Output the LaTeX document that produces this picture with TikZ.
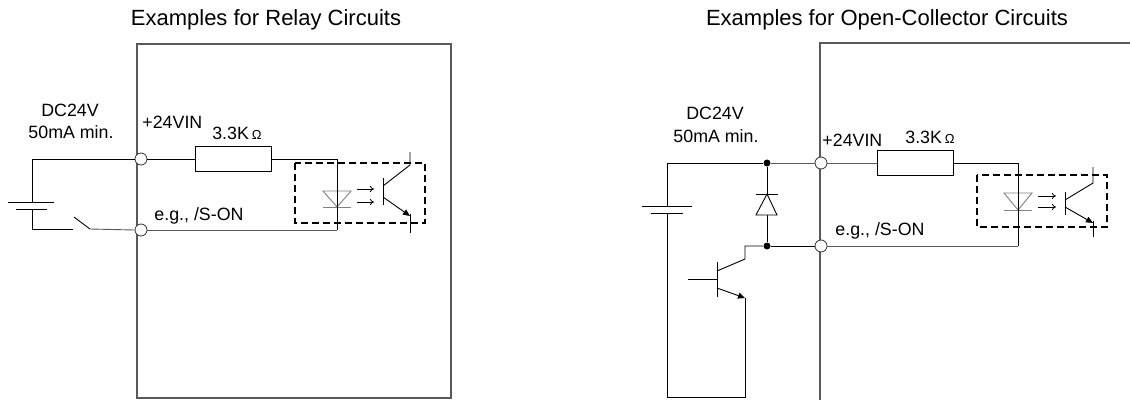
\documentclass[tikz,border=0pt]{standalone}
\usepackage{fontspec}
\setmainfont{Liberation Sans}
\usepackage{xcolor}
\usetikzlibrary{calc,shapes,positioning,arrows.meta}

\definecolor{wiregray}{gray}{0.35}
\definecolor{ledgray}{gray}{0.5}

\begin{document}
\begin{tikzpicture}[x=1pt, y=-1pt, line width=0.9pt,
        headtext/.style={inner sep=0pt, font=\fontsize{22}{24}\selectfont},
        txt/.style={inner sep=0pt, font=\fontsize{17.8}{20}\selectfont},
        housing/.style={draw=wiregray, line width=1.1pt},
        terminal/.style={circle, draw=black!80, fill=white, minimum size=12pt, inner sep=0pt, line width=0.8pt},
        junction/.style={circle, fill=black, minimum size=7pt, inner sep=0pt},
        resistor/.style={rectangle, draw, minimum width=76pt, minimum height=25pt, inner sep=0pt},
        dashbox/.style={draw, line width=1.8pt, dash pattern=on 7pt off 4pt},
        led/.style={draw=ledgray, line width=0.9pt},
        light/.style={-{To[length=4pt, width=6pt]}, line width=0.8pt},
        emitter/.style={-{Triangle[length=7pt, width=6pt]}}]
        \useasboundingbox (0,0) rectangle (1130,400);

        % relay circuit
        \draw[housing] (137,44) rectangle (451,398);
        \node[headtext] (ltitle) at (266,20) {Examples for Relay Circuits};
        \node[txt] (ldc) at (70,110) {DC24V};
        \node[txt] (lma) at (71,132) {50mA min.};
        \node[txt, anchor=west] (lvin) at (142,122) {+24VIN};
        \node[txt] (lval) at (237,133) {3.3K\,{\fontsize{13}{14}\selectfont Ω}};
        \node[txt, anchor=west] (lsig) at (154,216) {e.g., /S-ON};

        \node[resistor] (lres) at (233,159) {};
        \coordinate (lbatp) at (32,202);
        \coordinate (lbatn) at (32,209);
        \coordinate (lsw) at (73,229);
        \coordinate (lswb) at (90,229);
        \coordinate (lled) at (337,159);
        \node[terminal] (lin) at (141,159) {};
        \node[terminal] (lson) at (141,230) {};

        \draw[led] (323,191) -- (351,191) -- (337,207) -- cycle;
        \draw[led] (323,207) -- (351,207);
        \draw (lin.west) -| (lbatp);
        \draw (lbatn) |- (lsw);
        \draw (74,217) -- (lswb);
        \draw[wiregray] (lswb) -- (lson.west);
        \draw (8,202) -- (54,202);
        \draw (16,209) -- (47,209);
        \draw (lin.east) -- (lres.west);
        \draw (lres.east) -- (lled) -- (337,230);
        \draw[wiregray] (337,230) -- (lson.east);

        \draw[light] (357,189) -- (374,189);
        \draw[light] (357,202) -- (374,202);
        \draw (383,178) -- (383,205);
        \draw (383,186) -- (410,165) -- (410,152);
        \draw[emitter] (383,197) -- (410,216);
        \draw (410,214) -- (410,233);
        \draw[dashbox] (295,163) rectangle (425,223);

        % open-collector circuit
        \draw[housing] (820,400) -- (820,43) -- (1131,43);
        \node[headtext] (rtitle) at (887,20) {Examples for Open-Collector Circuits};
        \node[txt] (rdc) at (715,113) {DC24V};
        \node[txt] (rma) at (716,136) {50mA min.};
        \node[txt, anchor=west] (rvin) at (822,140) {+24VIN};
        \node[txt] (rval) at (930,137) {3.3K\,{\fontsize{13}{14}\selectfont Ω}};
        \node[txt, anchor=west] (rsig) at (835,231) {e.g., /S-ON};

        \node[resistor] (rres) at (915,163) {};
        \node[junction] (rjtop) at (767,163) {};
        \node[junction] (rjbot) at (767,246) {};
        \coordinate (rbatp) at (667,206);
        \coordinate (rbatn) at (667,213);
        \coordinate (rcol) at (745,259);
        \coordinate (remi) at (745,298);
        \coordinate (rled) at (1018,163);
        \node[terminal] (rin) at (821,163) {};
        \node[terminal] (rson) at (821,246) {};

        \draw[wiregray] (rin.west) -- (rjtop);
        \draw (rjtop) -| (rbatp);
        \draw (642,206) -- (692,206);
        \draw (651,213) -- (683,213);
        \draw (rbatn) -- (667,397) -| (remi);
        \draw (rjtop) -- (rjbot);
        \draw[fill=white] (767,194) -- (777,215) -- (756,215) -- cycle;
        \draw (756,194) -- (778,194);
        \draw (rjbot) -- (rson.west);
        \draw (rjbot) -| (rcol) -- (717,271);
        \draw (717,262) -- (717,297);
        \draw (688,279) -- (717,279);
        \draw[emitter] (717,288) -- (remi);

        \draw[led] (1004,193) -- (1032,193) -- (1018,210) -- cycle;
        \draw[led] (1004,210) -- (1032,210);
        \draw[wiregray] (rin.east) -- (rres.west);
        \draw (rres.east) -- (rled) -- (1018,246);
        \draw[wiregray] (1018,246) -- (rson.east);

        \draw[light] (1038,196) -- (1056,196);
        \draw[light] (1038,207) -- (1056,207);
        \draw (1065,192) -- (1065,215);
        \draw (1065,200) -- (1093,183) -- (1093,167);
        \draw[emitter] (1065,207) -- (1093,223);
        \draw (1093,221) -- (1093,237);
        \draw[dashbox] (977,175) rectangle (1107,227);
    \end{tikzpicture}
\end{document}
